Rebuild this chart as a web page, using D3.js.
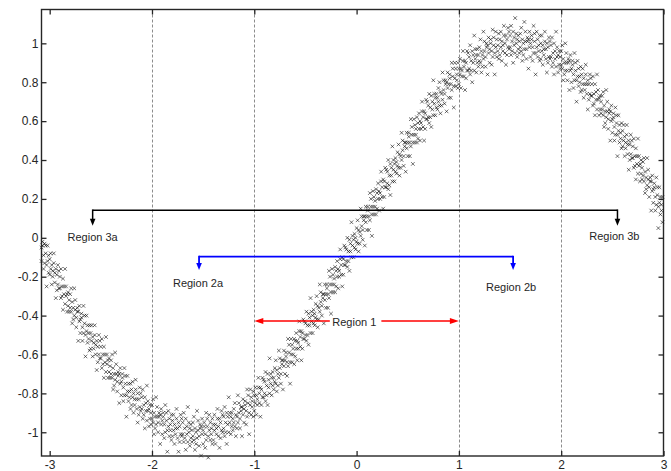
<!DOCTYPE html>
<html><head><meta charset="utf-8">
<script src="https://cdn.jsdelivr.net/npm/d3@7"></script>
<style>
html,body{margin:0;padding:0;background:#fff;}
svg{display:block;}
text{font-family:"Liberation Sans",Arial,Helvetica,sans-serif;}
</style></head><body>
<svg id="chart" width="671" height="471"></svg>
<script>
// Axis ticks and labels
const xTicks = [-3, -2, -1, 0, 1, 2, 3];
const xTickLabels = ["-3", "-2", "-1", "0", "1", "2", "3"];
const yTicks = [-1, -0.8, -0.6, -0.4, -0.2, 0, 0.2, 0.4, 0.6, 0.8, 1];
const yTickLabels = ["-1", "-0.8", "-0.6", "-0.4", "-0.2", "0", "0.2", "0.4", "0.6", "0.8", "1"];
const dashedX = [-2, -1, 1, 2];

// Region boundaries (x) and their names
const regionNames = ["Region 1", "Region 2a", "Region 2b", "Region 3a", "Region 3b"];
const region1 = [-1, 1];
const region2 = [-1.54, 1.53];
const region3 = [-2.58, 2.55];

// Noisy samples [x, y]
const samples = [
[-3.08,-0.12],[-3.08,-0.05],[-3.07,-0.04],[-3.07,-0.02],[-3.06,-0.09],[-3.06,-0.16],[-3.05,-0.03],[-3.05,-0.13],[-3.04,-0.08],[-3.04,-0.04],[-3.03,-0.14],[-3.03,-0.25],[-3.02,-0.04],[-3.02,-0.12],[-3.01,-0.18],[-3.01,-0.09],
[-3.00,-0.11],[-3.00,-0.19],[-2.99,-0.08],[-2.99,-0.16],[-2.98,-0.24],[-2.98,-0.14],[-2.97,-0.17],[-2.97,-0.20],[-2.96,-0.13],[-2.96,-0.08],[-2.95,-0.23],[-2.95,-0.18],[-2.94,-0.31],[-2.94,-0.16],[-2.93,-0.19],[-2.93,-0.27],[-2.92,-0.14],[-2.92,-0.24],[-2.91,-0.26],[-2.91,-0.17],
[-2.90,-0.26],[-2.90,-0.20],[-2.89,-0.16],[-2.89,-0.31],[-2.88,-0.25],[-2.88,-0.30],[-2.87,-0.21],[-2.87,-0.37],[-2.86,-0.29],[-2.86,-0.25],[-2.85,-0.16],[-2.85,-0.34],[-2.84,-0.30],[-2.84,-0.25],[-2.83,-0.38],[-2.83,-0.29],[-2.82,-0.28],[-2.82,-0.35],[-2.81,-0.38],[-2.81,-0.32],
[-2.80,-0.29],[-2.80,-0.36],[-2.79,-0.38],[-2.79,-0.26],[-2.78,-0.33],[-2.78,-0.44],[-2.77,-0.42],[-2.77,-0.36],[-2.76,-0.26],[-2.76,-0.40],[-2.75,-0.37],[-2.75,-0.32],[-2.74,-0.41],[-2.74,-0.46],[-2.73,-0.36],[-2.73,-0.38],[-2.72,-0.53],[-2.72,-0.38],[-2.71,-0.35],[-2.71,-0.43],
[-2.70,-0.49],[-2.70,-0.42],[-2.69,-0.41],[-2.69,-0.39],[-2.68,-0.46],[-2.68,-0.53],[-2.67,-0.35],[-2.67,-0.49],[-2.66,-0.44],[-2.66,-0.40],[-2.65,-0.50],[-2.65,-0.61],[-2.64,-0.40],[-2.64,-0.48],[-2.63,-0.54],[-2.63,-0.45],[-2.62,-0.49],[-2.62,-0.52],[-2.61,-0.45],[-2.61,-0.58],
[-2.60,-0.49],[-2.60,-0.57],[-2.59,-0.45],[-2.59,-0.53],[-2.58,-0.61],[-2.58,-0.51],[-2.57,-0.54],[-2.57,-0.57],[-2.56,-0.50],[-2.56,-0.45],[-2.55,-0.60],[-2.55,-0.55],[-2.54,-0.68],[-2.54,-0.53],[-2.53,-0.56],[-2.53,-0.64],[-2.52,-0.50],[-2.52,-0.60],[-2.51,-0.62],[-2.51,-0.53],
[-2.50,-0.62],[-2.50,-0.56],[-2.49,-0.52],[-2.49,-0.67],[-2.48,-0.60],[-2.48,-0.65],[-2.47,-0.56],[-2.47,-0.72],[-2.46,-0.64],[-2.46,-0.60],[-2.45,-0.51],[-2.45,-0.69],[-2.44,-0.65],[-2.44,-0.60],[-2.43,-0.72],[-2.43,-0.63],[-2.42,-0.62],[-2.42,-0.69],[-2.41,-0.72],[-2.41,-0.66],
[-2.40,-0.63],[-2.40,-0.70],[-2.39,-0.72],[-2.39,-0.60],[-2.38,-0.67],[-2.38,-0.78],[-2.37,-0.76],[-2.37,-0.70],[-2.36,-0.59],[-2.36,-0.73],[-2.35,-0.70],[-2.35,-0.65],[-2.34,-0.74],[-2.34,-0.79],[-2.33,-0.69],[-2.33,-0.71],[-2.32,-0.85],[-2.32,-0.70],[-2.31,-0.67],[-2.31,-0.75],
[-2.30,-0.81],[-2.30,-0.74],[-2.29,-0.72],[-2.29,-0.70],[-2.28,-0.77],[-2.28,-0.84],[-2.27,-0.67],[-2.27,-0.81],[-2.26,-0.75],[-2.26,-0.71],[-2.25,-0.81],[-2.25,-0.92],[-2.24,-0.71],[-2.24,-0.79],[-2.23,-0.84],[-2.23,-0.75],[-2.22,-0.79],[-2.22,-0.82],[-2.21,-0.75],[-2.21,-0.88],
[-2.20,-0.78],[-2.20,-0.86],[-2.19,-0.74],[-2.19,-0.82],[-2.18,-0.90],[-2.18,-0.80],[-2.17,-0.83],[-2.17,-0.86],[-2.16,-0.78],[-2.16,-0.73],[-2.15,-0.88],[-2.15,-0.83],[-2.14,-0.95],[-2.14,-0.80],[-2.13,-0.83],[-2.13,-0.91],[-2.12,-0.77],[-2.12,-0.87],[-2.11,-0.89],[-2.11,-0.80],
[-2.10,-0.88],[-2.10,-0.82],[-2.09,-0.78],[-2.09,-0.93],[-2.08,-0.86],[-2.08,-0.91],[-2.07,-0.82],[-2.07,-0.98],[-2.06,-0.89],[-2.06,-0.85],[-2.05,-0.76],[-2.05,-0.94],[-2.04,-0.89],[-2.04,-0.84],[-2.03,-0.97],[-2.03,-0.88],[-2.02,-0.86],[-2.02,-0.93],[-2.01,-0.96],[-2.01,-0.90],
[-2.00,-0.86],[-2.00,-0.93],[-1.99,-0.95],[-1.99,-0.83],[-1.98,-0.90],[-1.98,-1.01],[-1.97,-0.98],[-1.97,-0.92],[-1.96,-0.82],[-1.96,-0.96],[-1.95,-0.92],[-1.95,-0.87],[-1.94,-0.95],[-1.94,-1.00],[-1.93,-0.90],[-1.93,-0.92],[-1.92,-1.06],[-1.92,-0.91],[-1.91,-0.88],[-1.91,-0.96],
[-1.90,-1.01],[-1.90,-0.94],[-1.89,-0.92],[-1.89,-0.90],[-1.88,-0.96],[-1.88,-1.03],[-1.87,-0.86],[-1.87,-1.00],[-1.86,-0.94],[-1.86,-0.90],[-1.85,-0.99],[-1.85,-1.10],[-1.84,-0.89],[-1.84,-0.97],[-1.83,-1.02],[-1.83,-0.93],[-1.82,-0.96],[-1.82,-0.99],[-1.81,-0.91],[-1.81,-1.04],
[-1.80,-0.94],[-1.80,-1.02],[-1.79,-0.91],[-1.79,-0.99],[-1.78,-1.06],[-1.78,-0.96],[-1.77,-0.98],[-1.77,-1.01],[-1.76,-0.93],[-1.76,-0.88],[-1.75,-1.03],[-1.75,-0.98],[-1.74,-1.10],[-1.74,-0.95],[-1.73,-0.97],[-1.73,-1.05],[-1.72,-0.91],[-1.72,-1.01],[-1.71,-1.02],[-1.71,-0.93],
[-1.70,-1.01],[-1.70,-0.95],[-1.69,-0.90],[-1.69,-1.05],[-1.68,-0.98],[-1.68,-1.03],[-1.67,-0.93],[-1.67,-1.09],[-1.66,-1.01],[-1.66,-0.97],[-1.65,-0.87],[-1.65,-1.05],[-1.64,-1.00],[-1.64,-0.95],[-1.63,-1.07],[-1.63,-0.98],[-1.62,-0.96],[-1.62,-1.03],[-1.61,-1.05],[-1.61,-0.99],
[-1.60,-0.95],[-1.60,-1.02],[-1.59,-1.04],[-1.59,-0.92],[-1.58,-0.98],[-1.58,-1.09],[-1.57,-1.06],[-1.57,-1.00],[-1.56,-0.89],[-1.56,-1.03],[-1.55,-0.99],[-1.55,-0.94],[-1.54,-1.02],[-1.54,-1.07],[-1.53,-0.96],[-1.53,-0.98],[-1.52,-1.12],[-1.52,-0.97],[-1.51,-0.93],[-1.51,-1.01],
[-1.50,-1.06],[-1.50,-0.99],[-1.49,-0.97],[-1.49,-0.95],[-1.48,-1.01],[-1.48,-1.08],[-1.47,-0.90],[-1.47,-1.04],[-1.46,-0.97],[-1.46,-0.93],[-1.45,-1.02],[-1.45,-1.13],[-1.44,-0.91],[-1.44,-0.99],[-1.43,-1.04],[-1.43,-0.95],[-1.42,-0.98],[-1.42,-1.01],[-1.41,-0.93],[-1.41,-1.06],
[-1.40,-0.96],[-1.40,-1.04],[-1.39,-0.91],[-1.39,-0.99],[-1.38,-1.06],[-1.38,-0.96],[-1.37,-0.98],[-1.37,-1.01],[-1.36,-0.93],[-1.36,-0.88],[-1.35,-1.02],[-1.35,-0.97],[-1.34,-1.08],[-1.34,-0.93],[-1.33,-0.95],[-1.33,-1.03],[-1.32,-0.89],[-1.32,-0.99],[-1.31,-1.00],[-1.31,-0.91],
[-1.30,-0.98],[-1.30,-0.92],[-1.29,-0.87],[-1.29,-1.02],[-1.28,-0.95],[-1.28,-1.00],[-1.27,-0.90],[-1.27,-1.06],[-1.26,-0.96],[-1.26,-0.92],[-1.25,-0.82],[-1.25,-1.00],[-1.24,-0.95],[-1.24,-0.90],[-1.23,-1.01],[-1.23,-0.92],[-1.22,-0.90],[-1.22,-0.97],[-1.21,-0.99],[-1.21,-0.93],
[-1.20,-0.88],[-1.20,-0.95],[-1.19,-0.97],[-1.19,-0.85],[-1.18,-0.91],[-1.18,-1.02],[-1.17,-0.98],[-1.17,-0.92],[-1.16,-0.81],[-1.16,-0.95],[-1.15,-0.90],[-1.15,-0.85],[-1.14,-0.93],[-1.14,-0.98],[-1.13,-0.87],[-1.13,-0.89],[-1.12,-1.02],[-1.12,-0.87],[-1.11,-0.83],[-1.11,-0.91],
[-1.10,-0.95],[-1.10,-0.88],[-1.09,-0.86],[-1.09,-0.84],[-1.08,-0.89],[-1.08,-0.96],[-1.07,-0.78],[-1.07,-0.92],[-1.06,-0.85],[-1.06,-0.81],[-1.05,-0.90],[-1.05,-1.01],[-1.04,-0.78],[-1.04,-0.86],[-1.03,-0.91],[-1.03,-0.82],[-1.02,-0.84],[-1.02,-0.87],[-1.01,-0.79],[-1.01,-0.92],
[-1.00,-0.81],[-1.00,-0.89],[-0.99,-0.77],[-0.99,-0.85],[-0.98,-0.91],[-0.98,-0.81],[-0.97,-0.83],[-0.97,-0.86],[-0.96,-0.77],[-0.96,-0.72],[-0.95,-0.85],[-0.95,-0.80],[-0.94,-0.92],[-0.94,-0.77],[-0.93,-0.78],[-0.93,-0.86],[-0.92,-0.72],[-0.92,-0.82],[-0.91,-0.82],[-0.91,-0.73],
[-0.90,-0.80],[-0.90,-0.74],[-0.89,-0.69],[-0.89,-0.84],[-0.88,-0.76],[-0.88,-0.81],[-0.87,-0.70],[-0.87,-0.86],[-0.86,-0.77],[-0.86,-0.73],[-0.85,-0.62],[-0.85,-0.80],[-0.84,-0.75],[-0.84,-0.70],[-0.83,-0.81],[-0.83,-0.72],[-0.82,-0.69],[-0.82,-0.76],[-0.81,-0.78],[-0.81,-0.72],
[-0.80,-0.67],[-0.80,-0.74],[-0.79,-0.75],[-0.79,-0.63],[-0.78,-0.68],[-0.78,-0.79],[-0.77,-0.76],[-0.77,-0.70],[-0.76,-0.58],[-0.76,-0.72],[-0.75,-0.67],[-0.75,-0.62],[-0.74,-0.70],[-0.74,-0.75],[-0.73,-0.63],[-0.73,-0.65],[-0.72,-0.78],[-0.72,-0.63],[-0.71,-0.58],[-0.71,-0.66],
[-0.70,-0.70],[-0.70,-0.63],[-0.69,-0.61],[-0.69,-0.59],[-0.68,-0.64],[-0.68,-0.71],[-0.67,-0.52],[-0.67,-0.66],[-0.66,-0.59],[-0.66,-0.55],[-0.65,-0.64],[-0.65,-0.75],[-0.64,-0.52],[-0.64,-0.60],[-0.63,-0.64],[-0.63,-0.55],[-0.62,-0.57],[-0.62,-0.60],[-0.61,-0.52],[-0.61,-0.65],
[-0.60,-0.53],[-0.60,-0.61],[-0.59,-0.49],[-0.59,-0.57],[-0.58,-0.63],[-0.58,-0.53],[-0.57,-0.54],[-0.57,-0.57],[-0.56,-0.48],[-0.56,-0.43],[-0.55,-0.56],[-0.55,-0.51],[-0.54,-0.63],[-0.54,-0.48],[-0.53,-0.49],[-0.53,-0.57],[-0.52,-0.42],[-0.52,-0.52],[-0.51,-0.52],[-0.51,-0.43],
[-0.50,-0.50],[-0.50,-0.44],[-0.49,-0.38],[-0.49,-0.53],[-0.48,-0.45],[-0.48,-0.50],[-0.47,-0.39],[-0.47,-0.55],[-0.46,-0.45],[-0.46,-0.41],[-0.45,-0.31],[-0.45,-0.49],[-0.44,-0.43],[-0.44,-0.38],[-0.43,-0.49],[-0.43,-0.40],[-0.42,-0.37],[-0.42,-0.44],[-0.41,-0.45],[-0.41,-0.39],
[-0.40,-0.34],[-0.40,-0.41],[-0.39,-0.42],[-0.39,-0.30],[-0.38,-0.35],[-0.38,-0.46],[-0.37,-0.42],[-0.37,-0.36],[-0.36,-0.24],[-0.36,-0.38],[-0.35,-0.33],[-0.35,-0.28],[-0.34,-0.35],[-0.34,-0.40],[-0.33,-0.29],[-0.33,-0.31],[-0.32,-0.44],[-0.32,-0.29],[-0.31,-0.24],[-0.31,-0.32],
[-0.30,-0.36],[-0.30,-0.29],[-0.29,-0.26],[-0.29,-0.24],[-0.28,-0.29],[-0.28,-0.36],[-0.27,-0.17],[-0.27,-0.31],[-0.26,-0.24],[-0.26,-0.20],[-0.25,-0.28],[-0.25,-0.39],[-0.24,-0.16],[-0.24,-0.24],[-0.23,-0.28],[-0.23,-0.19],[-0.22,-0.21],[-0.22,-0.24],[-0.21,-0.15],[-0.21,-0.28],
[-0.20,-0.17],[-0.20,-0.25],[-0.19,-0.12],[-0.19,-0.20],[-0.18,-0.26],[-0.18,-0.16],[-0.17,-0.17],[-0.17,-0.20],[-0.16,-0.11],[-0.16,-0.06],[-0.15,-0.19],[-0.15,-0.14],[-0.14,-0.25],[-0.14,-0.10],[-0.13,-0.11],[-0.13,-0.19],[-0.12,-0.04],[-0.12,-0.14],[-0.11,-0.14],[-0.11,-0.05],
[-0.10,-0.12],[-0.10,-0.06],[-0.09,0.00],[-0.09,-0.15],[-0.08,-0.07],[-0.08,-0.12],[-0.07,-0.01],[-0.07,-0.17],[-0.06,-0.07],[-0.06,-0.03],[-0.05,0.08],[-0.05,-0.10],[-0.04,-0.04],[-0.04,0.01],[-0.03,-0.10],[-0.03,-0.01],[-0.02,0.02],[-0.02,-0.05],[-0.01,-0.06],[-0.01,0.00],
[0.00,0.05],[0.00,-0.02],[0.01,-0.03],[0.01,0.09],[0.02,0.04],[0.02,-0.07],[0.03,-0.03],[0.03,0.03],[0.04,0.15],[0.04,0.01],[0.05,0.06],[0.05,0.11],[0.06,0.04],[0.06,-0.01],[0.07,0.11],[0.07,0.09],[0.08,-0.04],[0.08,0.11],[0.09,0.16],[0.09,0.08],
[0.10,0.04],[0.10,0.11],[0.11,0.14],[0.11,0.16],[0.12,0.11],[0.12,0.04],[0.13,0.23],[0.13,0.09],[0.14,0.16],[0.14,0.20],[0.15,0.12],[0.15,0.01],[0.16,0.24],[0.16,0.16],[0.17,0.12],[0.17,0.21],[0.18,0.19],[0.18,0.16],[0.19,0.25],[0.19,0.12],
[0.20,0.23],[0.20,0.15],[0.21,0.28],[0.21,0.20],[0.22,0.14],[0.22,0.24],[0.23,0.23],[0.23,0.20],[0.24,0.29],[0.24,0.34],[0.25,0.21],[0.25,0.26],[0.26,0.15],[0.26,0.30],[0.27,0.29],[0.27,0.21],[0.28,0.36],[0.28,0.26],[0.29,0.26],[0.29,0.35],
[0.30,0.28],[0.30,0.34],[0.31,0.40],[0.31,0.25],[0.32,0.32],[0.32,0.27],[0.33,0.38],[0.33,0.22],[0.34,0.32],[0.34,0.36],[0.35,0.47],[0.35,0.29],[0.36,0.35],[0.36,0.40],[0.37,0.29],[0.37,0.38],[0.38,0.41],[0.38,0.34],[0.39,0.33],[0.39,0.39],
[0.40,0.44],[0.40,0.37],[0.41,0.36],[0.41,0.48],[0.42,0.43],[0.42,0.32],[0.43,0.36],[0.43,0.42],[0.44,0.54],[0.44,0.40],[0.45,0.45],[0.45,0.50],[0.46,0.42],[0.46,0.37],[0.47,0.49],[0.47,0.47],[0.48,0.34],[0.48,0.49],[0.49,0.54],[0.49,0.46],
[0.50,0.42],[0.50,0.49],[0.51,0.52],[0.51,0.54],[0.52,0.49],[0.52,0.42],[0.53,0.61],[0.53,0.47],[0.54,0.53],[0.54,0.57],[0.55,0.49],[0.55,0.38],[0.56,0.61],[0.56,0.53],[0.57,0.49],[0.57,0.58],[0.58,0.56],[0.58,0.53],[0.59,0.62],[0.59,0.49],
[0.60,0.59],[0.60,0.51],[0.61,0.64],[0.61,0.56],[0.62,0.50],[0.62,0.60],[0.63,0.59],[0.63,0.56],[0.64,0.65],[0.64,0.70],[0.65,0.57],[0.65,0.62],[0.66,0.50],[0.66,0.65],[0.67,0.64],[0.67,0.56],[0.68,0.71],[0.68,0.61],[0.69,0.61],[0.69,0.70],
[0.70,0.62],[0.70,0.68],[0.71,0.74],[0.71,0.59],[0.72,0.67],[0.72,0.62],[0.73,0.73],[0.73,0.57],[0.74,0.66],[0.74,0.70],[0.75,0.81],[0.75,0.63],[0.76,0.69],[0.76,0.74],[0.77,0.63],[0.77,0.72],[0.78,0.74],[0.78,0.67],[0.79,0.66],[0.79,0.72],
[0.80,0.77],[0.80,0.70],[0.81,0.68],[0.81,0.80],[0.82,0.75],[0.82,0.64],[0.83,0.68],[0.83,0.74],[0.84,0.85],[0.84,0.71],[0.85,0.76],[0.85,0.81],[0.86,0.74],[0.86,0.69],[0.87,0.81],[0.87,0.79],[0.88,0.65],[0.88,0.80],[0.89,0.85],[0.89,0.77],
[0.90,0.72],[0.90,0.79],[0.91,0.82],[0.91,0.84],[0.92,0.79],[0.92,0.72],[0.93,0.90],[0.93,0.76],[0.94,0.83],[0.94,0.87],[0.95,0.78],[0.95,0.67],[0.96,0.90],[0.96,0.82],[0.97,0.78],[0.97,0.87],[0.98,0.84],[0.98,0.81],[0.99,0.90],[0.99,0.77],
[1.00,0.87],[1.00,0.79],[1.01,0.92],[1.01,0.84],[1.02,0.77],[1.02,0.87],[1.03,0.86],[1.03,0.83],[1.04,0.91],[1.04,0.96],[1.05,0.83],[1.05,0.88],[1.06,0.76],[1.06,0.91],[1.07,0.90],[1.07,0.82],[1.08,0.96],[1.08,0.86],[1.09,0.86],[1.09,0.95],
[1.10,0.87],[1.10,0.93],[1.11,0.99],[1.11,0.84],[1.12,0.91],[1.12,0.86],[1.13,0.96],[1.13,0.80],[1.14,0.90],[1.14,0.94],[1.15,1.04],[1.15,0.86],[1.16,0.92],[1.16,0.97],[1.17,0.85],[1.17,0.94],[1.18,0.97],[1.18,0.90],[1.19,0.88],[1.19,0.94],
[1.20,0.98],[1.20,0.91],[1.21,0.90],[1.21,1.02],[1.22,0.96],[1.22,0.85],[1.23,0.88],[1.23,0.94],[1.24,1.06],[1.24,0.92],[1.25,0.96],[1.25,1.01],[1.26,0.93],[1.26,0.88],[1.27,1.00],[1.27,0.98],[1.28,0.84],[1.28,0.99],[1.29,1.03],[1.29,0.95],
[1.30,0.90],[1.30,0.97],[1.31,1.00],[1.31,1.02],[1.32,0.96],[1.32,0.89],[1.33,1.07],[1.33,0.93],[1.34,0.99],[1.34,1.03],[1.35,0.95],[1.35,0.84],[1.36,1.06],[1.36,0.98],[1.37,0.93],[1.37,1.02],[1.38,0.99],[1.38,0.96],[1.39,1.05],[1.39,0.92],
[1.40,1.02],[1.40,0.94],[1.41,1.06],[1.41,0.98],[1.42,0.91],[1.42,1.01],[1.43,0.99],[1.43,0.96],[1.44,1.04],[1.44,1.09],[1.45,0.95],[1.45,1.00],[1.46,0.89],[1.46,1.04],[1.47,1.02],[1.47,0.94],[1.48,1.08],[1.48,0.98],[1.49,0.97],[1.49,1.06],
[1.50,0.98],[1.50,1.04],[1.51,1.09],[1.51,0.94],[1.52,1.01],[1.52,0.96],[1.53,1.06],[1.53,0.90],[1.54,0.99],[1.54,1.03],[1.55,1.13],[1.55,0.95],[1.56,1.00],[1.56,1.05],[1.57,0.93],[1.57,1.02],[1.58,1.04],[1.58,0.97],[1.59,0.95],[1.59,1.01],
[1.60,1.05],[1.60,0.98],[1.61,0.96],[1.61,1.08],[1.62,1.02],[1.62,0.91],[1.63,0.94],[1.63,1.00],[1.64,1.11],[1.64,0.97],[1.65,1.01],[1.65,1.06],[1.66,0.97],[1.66,0.92],[1.67,1.03],[1.67,1.01],[1.68,0.87],[1.68,1.02],[1.69,1.06],[1.69,0.98],
[1.70,0.93],[1.70,1.00],[1.71,1.02],[1.71,1.04],[1.72,0.98],[1.72,0.91],[1.73,1.09],[1.73,0.95],[1.74,1.01],[1.74,1.05],[1.75,0.95],[1.75,0.84],[1.76,1.06],[1.76,0.98],[1.77,0.93],[1.77,1.02],[1.78,0.99],[1.78,0.96],[1.79,1.04],[1.79,0.91],
[1.80,1.00],[1.80,0.92],[1.81,1.04],[1.81,0.96],[1.82,0.89],[1.82,0.99],[1.83,0.97],[1.83,0.94],[1.84,1.01],[1.84,1.06],[1.85,0.92],[1.85,0.97],[1.86,0.85],[1.86,1.00],[1.87,0.98],[1.87,0.90],[1.88,1.03],[1.88,0.93],[1.89,0.92],[1.89,1.01],
[1.90,0.93],[1.90,0.99],[1.91,1.03],[1.91,0.88],[1.92,0.95],[1.92,0.90],[1.93,1.00],[1.93,0.84],[1.94,0.92],[1.94,0.96],[1.95,1.06],[1.95,0.88],[1.96,0.93],[1.96,0.98],[1.97,0.85],[1.97,0.94],[1.98,0.96],[1.98,0.89],[1.99,0.87],[1.99,0.93],
[2.00,0.96],[2.00,0.89],[2.01,0.87],[2.01,0.99],[2.02,0.92],[2.02,0.81],[2.03,0.84],[2.03,0.90],[2.04,1.00],[2.04,0.86],[2.05,0.90],[2.05,0.95],[2.06,0.86],[2.06,0.81],[2.07,0.92],[2.07,0.90],[2.08,0.76],[2.08,0.91],[2.09,0.94],[2.09,0.86],
[2.10,0.80],[2.10,0.87],[2.11,0.89],[2.11,0.91],[2.12,0.84],[2.12,0.77],[2.13,0.95],[2.13,0.81],[2.14,0.86],[2.14,0.90],[2.15,0.81],[2.15,0.70],[2.16,0.91],[2.16,0.83],[2.17,0.78],[2.17,0.87],[2.18,0.83],[2.18,0.80],[2.19,0.88],[2.19,0.75],
[2.20,0.84],[2.20,0.76],[2.21,0.87],[2.21,0.79],[2.22,0.72],[2.22,0.82],[2.23,0.79],[2.23,0.76],[2.24,0.84],[2.24,0.89],[2.25,0.74],[2.25,0.79],[2.26,0.66],[2.26,0.81],[2.27,0.79],[2.27,0.71],[2.28,0.84],[2.28,0.74],[2.29,0.73],[2.29,0.82],
[2.30,0.73],[2.30,0.79],[2.31,0.83],[2.31,0.68],[2.32,0.74],[2.32,0.69],[2.33,0.79],[2.33,0.63],[2.34,0.71],[2.34,0.75],[2.35,0.84],[2.35,0.66],[2.36,0.71],[2.36,0.76],[2.37,0.63],[2.37,0.72],[2.38,0.73],[2.38,0.66],[2.39,0.64],[2.39,0.70],
[2.40,0.73],[2.40,0.66],[2.41,0.63],[2.41,0.75],[2.42,0.68],[2.42,0.57],[2.43,0.59],[2.43,0.65],[2.44,0.76],[2.44,0.62],[2.45,0.65],[2.45,0.70],[2.46,0.61],[2.46,0.56],[2.47,0.66],[2.47,0.64],[2.48,0.50],[2.48,0.65],[2.49,0.68],[2.49,0.60],
[2.50,0.54],[2.50,0.61],[2.51,0.62],[2.51,0.64],[2.52,0.57],[2.52,0.50],[2.53,0.67],[2.53,0.53],[2.54,0.59],[2.54,0.63],[2.55,0.53],[2.55,0.42],[2.56,0.63],[2.56,0.55],[2.57,0.49],[2.57,0.58],[2.58,0.54],[2.58,0.51],[2.59,0.59],[2.59,0.46],
[2.60,0.55],[2.60,0.47],[2.61,0.58],[2.61,0.50],[2.62,0.42],[2.62,0.52],[2.63,0.49],[2.63,0.46],[2.64,0.53],[2.64,0.58],[2.65,0.43],[2.65,0.48],[2.66,0.35],[2.66,0.50],[2.67,0.48],[2.67,0.40],[2.68,0.53],[2.68,0.43],[2.69,0.41],[2.69,0.50],
[2.70,0.41],[2.70,0.47],[2.71,0.51],[2.71,0.36],[2.72,0.42],[2.72,0.37],[2.73,0.46],[2.73,0.30],[2.74,0.38],[2.74,0.42],[2.75,0.51],[2.75,0.33],[2.76,0.37],[2.76,0.42],[2.77,0.29],[2.77,0.38],[2.78,0.40],[2.78,0.33],[2.79,0.30],[2.79,0.36],
[2.80,0.39],[2.80,0.32],[2.81,0.29],[2.81,0.41],[2.82,0.34],[2.82,0.23],[2.83,0.25],[2.83,0.31],[2.84,0.41],[2.84,0.27],[2.85,0.30],[2.85,0.35],[2.86,0.26],[2.86,0.21],[2.87,0.31],[2.87,0.29],[2.88,0.14],[2.88,0.29],[2.89,0.32],[2.89,0.24],
[2.90,0.18],[2.90,0.25],[2.91,0.26],[2.91,0.28],[2.92,0.21],[2.92,0.14],[2.93,0.31],[2.93,0.17],[2.94,0.22],[2.94,0.26],[2.95,0.16],[2.95,0.05],[2.96,0.26],[2.96,0.18],[2.97,0.12],[2.97,0.21],[2.98,0.17],[2.98,0.14],[2.99,0.21],[2.99,0.08]
];

// ---------- layout ----------
const svg = d3.select("#chart");
const plot = { left: 41.5, right: 663.5, top: 9.5, bottom: 456 };
const x = d3.scaleLinear().domain([-3.08, 3]).range([plot.left, plot.right]);
const y = d3.scaleLinear().domain([-1.122, 1.174]).range([plot.bottom, plot.top]);
const ink = "#262626";
const fontSize = 12;

// dashed verticals
svg.append("g").selectAll("line").data(dashedX).join("line")
  .attr("x1", d => Math.round(x(d)) + 0.5).attr("x2", d => Math.round(x(d)) + 0.5)
  .attr("y1", plot.top).attr("y2", plot.bottom)
  .attr("stroke", "#8c8c8c").attr("stroke-width", 1).attr("stroke-dasharray", "3,2");

// scatter of x-markers
const cross = "M-1.8,-1.8L1.8,1.8M-1.8,1.8L1.8,-1.8";
svg.append("g").selectAll("path").data(samples).join("path")
  .attr("transform", d => `translate(${x(d[0])},${y(d[1])})`)
  .attr("d", cross)
  .attr("fill", "none")
  .attr("stroke", "#000")
  .attr("stroke-width", 0.9)
  .attr("stroke-opacity", 0.62);

// ---------- region annotations ----------
const ann = svg.append("g");
const levels = { r3: 0.142, r3tip: 0.062, r2: -0.097, r2tip: -0.165, r1: -0.428 };

function downArrow(g, px, yTop, yTip, color, w) {
  g.append("line").attr("x1", px).attr("x2", px).attr("y1", yTop).attr("y2", yTip - 5)
    .attr("stroke", color).attr("stroke-width", w);
  g.append("path").attr("d", `M${px - 2.8},${yTip - 7}L${px + 2.8},${yTip - 7}L${px},${yTip}Z`)
    .attr("fill", color);
}

function bracket(span, lvl, tip, color, w) {
  const y0 = y(lvl), yt = y(tip);
  ann.append("line").attr("x1", x(span[0])).attr("x2", x(span[1]))
    .attr("y1", y0).attr("y2", y0).attr("stroke", color).attr("stroke-width", w);
  downArrow(ann, x(span[0]), y0 - w / 2, yt, color, w);
  downArrow(ann, x(span[1]), y0 - w / 2, yt, color, w);
}

bracket(region3, levels.r3, levels.r3tip, "#000", 1.5);
bracket(region2, levels.r2, levels.r2tip, "#0000ff", 1.8);

// region labels (anchored in data units)
const labelAnchors = [
  [regionNames[3], -2.58, -0.018],
  [regionNames[4], 2.52, -0.013],
  [regionNames[1], -1.55, -0.251],
  [regionNames[2], 1.51, -0.275]
];
ann.selectAll("text.rl").data(labelAnchors).join("text").attr("class", "rl")
  .attr("x", d => x(d[1])).attr("y", d => y(d[2]))
  .attr("text-anchor", "middle").attr("font-size", 11).attr("fill", ink)
  .text(d => d[0]);

// Region 1: double-headed red arrow interrupted by its label
const r1y = y(levels.r1);
const r1label = ann.append("text")
  .attr("x", x(-0.022)).attr("y", y(-0.453))
  .attr("text-anchor", "middle").attr("font-size", 11).attr("fill", ink)
  .text(regionNames[0]);
const bb = r1label.node().getBBox();
const red = "#ff0000";
const xl = x(region1[0]), xr = x(region1[1]);
ann.append("line").attr("x1", xl + 6).attr("x2", bb.x - 2.5).attr("y1", r1y).attr("y2", r1y)
  .attr("stroke", red).attr("stroke-width", 1.6);
ann.append("line").attr("x1", bb.x + bb.width + 5).attr("x2", xr - 6).attr("y1", r1y).attr("y2", r1y)
  .attr("stroke", red).attr("stroke-width", 1.6);
ann.append("path").attr("d", `M${xl},${r1y}L${xl + 9},${r1y - 3}L${xl + 9},${r1y + 3}Z`).attr("fill", red);
ann.append("path").attr("d", `M${xr},${r1y}L${xr - 9},${r1y - 3}L${xr - 9},${r1y + 3}Z`).attr("fill", red);

// ---------- axes (box with inward ticks on all sides) ----------
const axB = d3.axisBottom(x).tickValues(xTicks).tickSize(-5).tickPadding(4)
  .tickFormat((d, i) => xTickLabels[i]);
const axT = d3.axisTop(x).tickValues(xTicks).tickSize(-5).tickFormat("");
const axL = d3.axisLeft(y).tickValues(yTicks).tickSize(-5).tickPadding(3)
  .tickFormat((d, i) => yTickLabels[i]);
const axR = d3.axisRight(y).tickValues(yTicks).tickSize(-5).tickFormat("");

function styleAxis(g) {
  g.select(".domain").remove();
  g.selectAll(".tick line").attr("stroke", ink).attr("stroke-width", 1.3);
  g.selectAll(".tick text").attr("fill", ink).attr("font-size", fontSize)
    .attr("font-family", '"Liberation Sans", Arial, sans-serif');
}
svg.append("g").attr("transform", `translate(0,${plot.bottom})`).call(axB).call(styleAxis);
svg.append("g").attr("transform", `translate(0,${plot.top})`).call(axT).call(styleAxis);
svg.append("g").attr("transform", `translate(${plot.left},0)`).call(axL).call(styleAxis);
svg.append("g").attr("transform", `translate(${plot.right},0)`).call(axR).call(styleAxis);

svg.append("rect")
  .attr("x", plot.left).attr("y", plot.top)
  .attr("width", plot.right - plot.left).attr("height", plot.bottom - plot.top)
  .attr("fill", "none").attr("stroke", ink).attr("stroke-width", 1.4);
</script>
</body></html>
